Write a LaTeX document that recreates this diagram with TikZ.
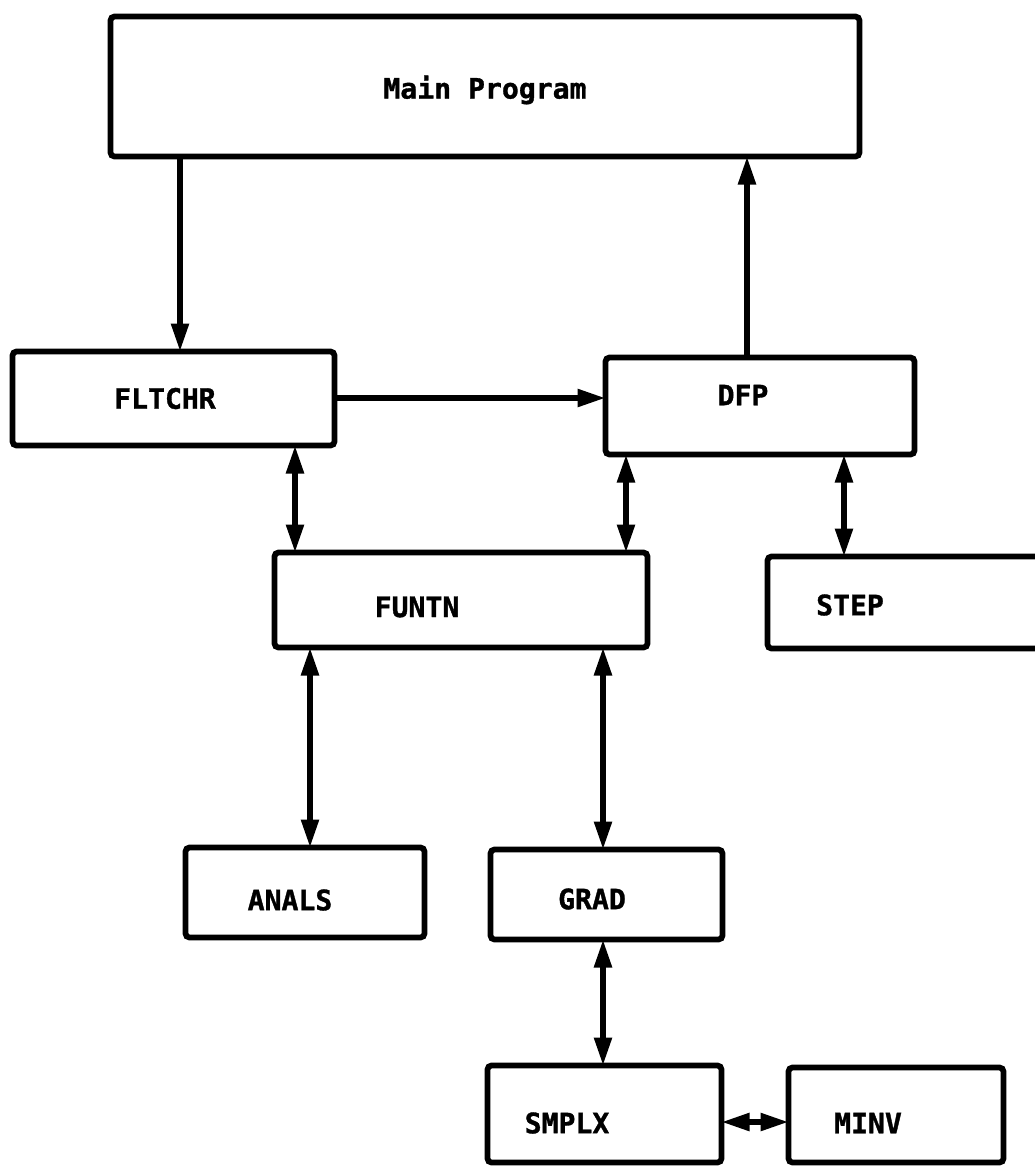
\documentclass[tikz,border=0pt]{standalone}
\usepackage{fontspec}
\newfontfamily\progfont{DejaVu Sans Mono}[BoldFeatures={FakeBold=1.2}]
\usetikzlibrary{arrows.meta}

\tikzset{
  module/.style={draw, line width=1.15mm, rounded corners=0.8mm, inner sep=0pt, outer sep=0pt},
  every label/.style={font=\progfont\bfseries\fontsize{16pt}{18pt}\selectfont},
  call/.style={line width=1.1mm, -{Triangle[length=5.6mm,width=3.4mm]}},
  link/.style={line width=1.1mm, {Triangle[length=5.6mm,width=3.4mm]}-{Triangle[length=5.6mm,width=3.4mm]}}
}

\begin{document}
\begin{tikzpicture}[x=0.2mm, y=-0.2mm]
  \useasboundingbox (0,0) rectangle (1035,1167);
  \clip (0,0) rectangle (1035,1167);

  % modules
  \node[module, minimum width=149.8mm, minimum height=28mm, label={[yshift=-0.7mm]center:Main Program}] (main) at (485,86.5) {};
  \node[module, minimum width=64.4mm, minimum height=18.8mm, label={[xshift=-1.7mm]center:FLTCHR}] (fltchr) at (173.5,398.5) {};
  \node[module, minimum width=61.8mm, minimum height=19.4mm, label={[xshift=-3.4mm,yshift=2.2mm]center:DFP}] (dfp) at (760,406) {};
  \node[module, minimum width=74.6mm, minimum height=19mm, label={[xshift=-8.8mm,yshift=-1.4mm]center:FUNTN}] (funtn) at (461,600) {};
  \node[module, minimum width=55mm, minimum height=18.4mm, label={[xshift=-11mm,yshift=-0.5mm]center:STEP}] (step) at (905,602.5) {};
  \node[module, minimum width=47.8mm, minimum height=18mm, label={[xshift=-3mm,yshift=-1.5mm]center:ANALS}] (anals) at (305,892.5) {};
  \node[module, minimum width=46.4mm, minimum height=18mm, label={[xshift=-2.9mm,yshift=-0.9mm]center:GRAD}] (grad) at (606.5,894.5) {};
  \node[module, minimum width=46.8mm, minimum height=19.4mm, label={[xshift=-7.5mm,yshift=-1.8mm]center:SMPLX}] (smplx) at (604.5,1114) {};
  \node[module, minimum width=43mm, minimum height=19mm, label={[xshift=-5.6mm,yshift=-1.6mm]center:MINV}] (minv) at (896,1115) {};

  % calls
  \draw[call] (main.south -| 180,0) -- (fltchr.north -| 180,0);
  \draw[call] (dfp.north -| 747,0) -- (main.south -| 747,0);
  \draw[call] (fltchr.east |- 0,398) -- (dfp.west |- 0,398);

  \draw[link] (fltchr.south -| 295,0) -- (funtn.north -| 295,0);
  \draw[link] (dfp.south -| 626,0) -- (funtn.north -| 626,0);
  \draw[link] (dfp.south -| 844,0) -- (step.north -| 844,0);
  \draw[link] (funtn.south -| 310,0) -- (anals.north -| 310,0);
  \draw[link] (funtn.south -| 603,0) -- (grad.north -| 603,0);
  \draw[link] (grad.south -| 603,0) -- (smplx.north -| 603,0);
  \draw[link] (smplx.east |- 0,1122) -- (minv.west |- 0,1122);
\end{tikzpicture}
\end{document}
